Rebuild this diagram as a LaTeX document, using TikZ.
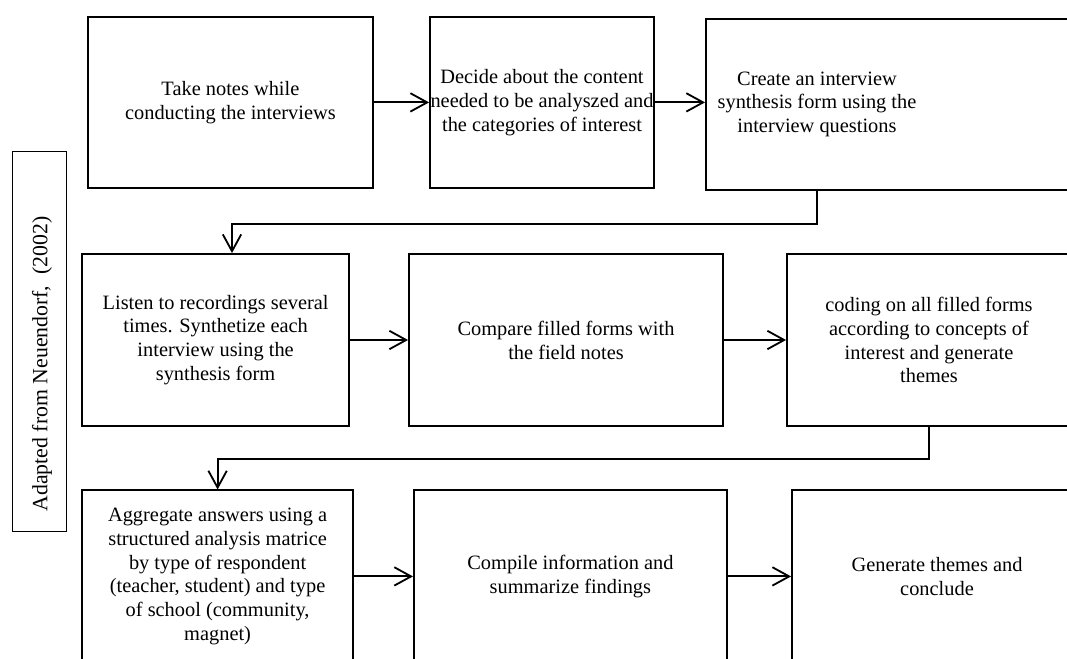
\documentclass[tikz,border=0pt]{standalone}
\usepackage{fontspec}
\setmainfont{Liberation Serif}
\usepackage{tikz}
\usetikzlibrary{positioning,arrows.meta,calc}
\tikzset{
  font=\fontsize{14.5}{17}\selectfont,
  >={Straight Barb[length=4.2mm,width=4.6mm]},
  stepbox/.style  = {draw, line width=1.3pt, align=center, inner sep=0pt,
                     minimum height=43mm},
  steptext/.style = {align=center, inner sep=0pt},
  srcbox/.style   = {draw, line width=0.7pt, rotate=90, inner sep=0pt,
                     minimum width=95mm, minimum height=13.5mm},
  flow/.style     = {->, line width=1.3pt},
}

\begin{document}
\begin{tikzpicture}

\useasboundingbox (0,0) rectangle (266.75mm,-164.5mm);
\clip (0,0) rectangle (266.75mm,-164.5mm);

% ---- source note, left ------------------------------------------------
\node[srcbox] at (9.75mm,-85.25mm) (src) {};
\node[steptext, rotate=90, font=\fontsize{15.5}{17}\selectfont] at (10.5mm,-91mm) (srctxt)
  {Adapted from Neuendorf,\ \ (2002)};

% ---- first row (y = -25.6) --------------------------------------------
\node[stepbox, minimum width=71.25mm, minimum height=42.75mm] at (57.6mm,-25.6mm)
  (take) {Take notes while\\conducting the interviews};
\node[stepbox, minimum width=56mm, minimum height=42.75mm] at (135.5mm,-25.6mm)
  (decide) {Decide about the content\\needed to be analyszed and\\the categories of interest};
\node[stepbox, minimum width=104mm, minimum height=42.75mm, anchor=west] at (176.25mm,-26.1mm)
  (form) {};
\node[steptext] at (204.25mm,-26.1mm)
  (formtxt) {Create an interview\\synthesis form using the\\interview questions};

% ---- second row (y = -85) ---------------------------------------------
\node[stepbox, minimum width=66.75mm] at (53.9mm,-85mm)
  (listen) {Listen to recordings several\\times. Synthetize each\\interview using the\\synthesis form};
\node[stepbox, minimum width=78.5mm] at (141.5mm,-85mm)
  (compare) {Compare filled forms with\\the field notes};
\node[stepbox, minimum width=71mm] at (232.25mm,-85mm)
  (coding) {coding on all filled forms\\according to concepts of\\interest and generate\\themes};

% ---- third row (y = -144.1), cut off below ----------------------------
\node[stepbox, minimum width=67.75mm] at (54.4mm,-144.1mm)
  (aggr) {Aggregate answers using a\\structured analysis matrice\\by type of respondent\\(teacher, student) and type\\of school (community,\\magnet)};
\node[stepbox, minimum width=78.25mm] at (142.6mm,-144.1mm)
  (compile) {Compile information and\\summarize findings};
\node[stepbox, minimum width=72.5mm] at (234.25mm,-144.1mm)
  (concl) {Generate themes and\\conclude};

% ---- connectors -------------------------------------------------------
\draw[flow] (take) -- (decide);
\draw[flow] (decide.east) -- (decide.east -| form.west);
\draw[flow] (formtxt |- form.south) -- ++(0,-8.25mm) -| ($(listen.north)+(4.1mm,0)$);
\draw[flow] (listen) -- (compare);
\draw[flow] (compare) -- (coding);
\draw[flow] (coding.south) -- ++(0,-8mm) -| (aggr.north);
\draw[flow] (aggr) -- (compile);
\draw[flow] (compile) -- (concl);

\end{tikzpicture}
\end{document}
